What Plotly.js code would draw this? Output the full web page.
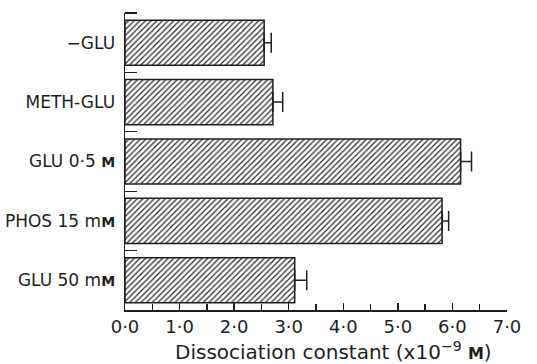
<!DOCTYPE html>
<html>
<head>
<meta charset="utf-8">
<script src="https://cdn.plot.ly/plotly-3.0.1.min.js"></script>
<style>html,body{margin:0;padding:0;background:#fff;}#chart{width:537px;height:364px;}</style>
</head>
<body>
<div id="chart"></div>
<script>
// Data
var categories = ["-GLU", "METH-GLU", "GLU 0.5 M", "PHOS 15 mM", "GLU 50 mM"];
var categoryLabels = [
  "\u2212GLU",
  "METH-GLU",
  "GLU 0\u00b75 <b><span style='font-size:14px'>M</span></b>",
  "PHOS 15 m<b><span style='font-size:14px'>M</span></b>",
  "GLU 50 m<b><span style='font-size:14px'>M</span></b>"
];
var dissociation = [2.55, 2.71, 6.15, 5.81, 3.11];
var errors = [0.13, 0.18, 0.20, 0.12, 0.22];
var xTickValues = [0, 1, 2, 3, 4, 5, 6, 7];
var xTickLabels = ["0\u00b70", "1\u00b70", "2\u00b70", "3\u00b70", "4\u00b70", "5\u00b70", "6\u00b70", "7\u00b70"];

var ink = "#1e1e1e";
var positions = categories.map(function (c, i) { return i; });
var boundaries = categories.map(function (c, i) { return i - 0.5; });

var trace = {
  type: "bar",
  orientation: "h",
  x: dissociation,
  y: positions,
  hovertext: categories,
  hoverinfo: "text+x",
  marker: {
    color: "#ffffff",
    line: { color: ink, width: 1.5 },
    pattern: { shape: "/", fgcolor: "#2a2a2a", bgcolor: "#ffffff", size: 4, solidity: 0.3 }
  },
  error_x: {
    type: "data",
    symmetric: false,
    array: errors,
    arrayminus: errors.map(function () { return 0; }),
    color: ink,
    thickness: 1.5,
    width: 10
  }
};

var layout = {
  width: 537,
  height: 364,
  margin: { l: 125, r: 30, t: 13, b: 54 },
  paper_bgcolor: "#ffffff",
  plot_bgcolor: "#ffffff",
  bargap: 0.24,
  showlegend: false,
  font: { family: "DejaVu Sans", color: ink, size: 17 },
  xaxis: {
    range: [0, 7],
    showgrid: false,
    zeroline: false,
    showline: true,
    linecolor: ink,
    linewidth: 1.5,
    ticks: "inside",
    ticklen: 7,
    tickwidth: 1.3,
    tickcolor: ink,
    tickmode: "array",
    tickvals: xTickValues,
    ticktext: xTickLabels,
    tickfont: { size: 18 },
    ticklabelstandoff: 0,
    minor: { dtick: 0.5, tick0: 0, ticks: "inside", ticklen: 6, tickwidth: 1.3, tickcolor: ink, showgrid: false },
    fixedrange: true
  },
  yaxis: {
    range: [4.5, -0.5],
    showgrid: false,
    zeroline: false,
    showline: true,
    linecolor: ink,
    linewidth: 1.5,
    ticks: "",
    tickmode: "array",
    tickvals: positions,
    ticktext: categoryLabels,
    tickfont: { size: 17 },
    ticklabelstandoff: 5,
    minor: { tickmode: "array", tickvals: boundaries, ticks: "inside", ticklen: 12, tickwidth: 1.3, tickcolor: ink, showgrid: false },
    fixedrange: true
  },
  annotations: [{
    text: "Dissociation constant (x10<sup>\u22129</sup> <b><span style='font-size:16px'>M</span></b>)",
    xref: "paper", yref: "paper",
    x: 0.545, y: -0.138,
    xanchor: "center", yanchor: "middle",
    showarrow: false,
    font: { size: 20, color: ink, family: "DejaVu Sans" }
  }]
};

Plotly.newPlot("chart", [trace], layout, { displayModeBar: false, staticPlot: true });
</script>
</body>
</html>
